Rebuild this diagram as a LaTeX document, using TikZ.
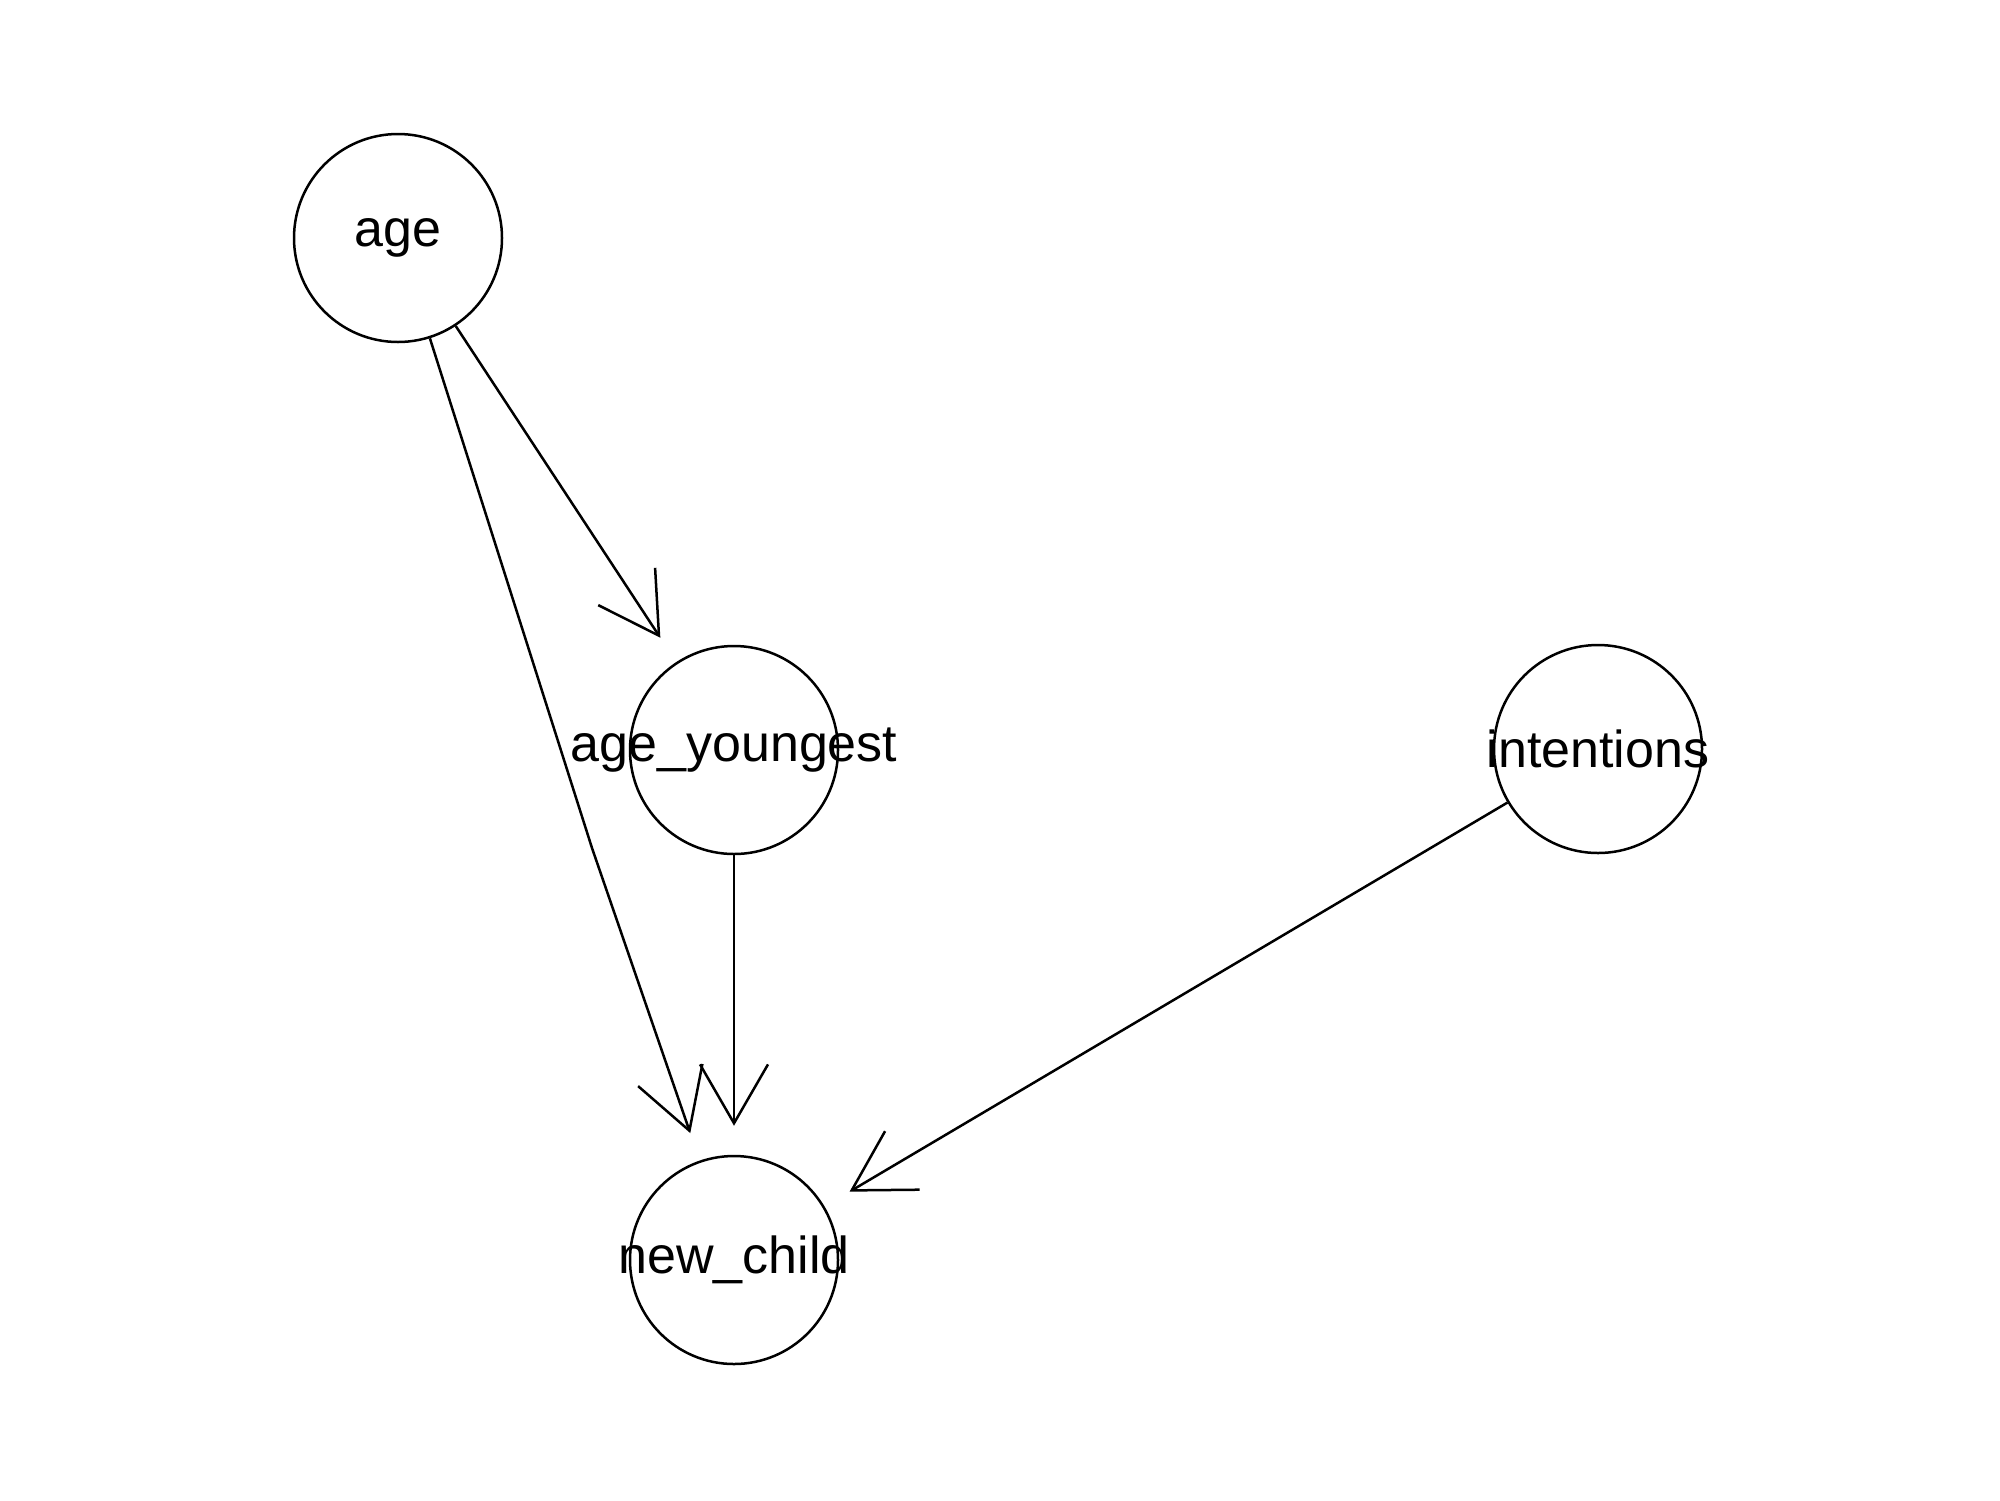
\documentclass[tikz,border=0pt]{standalone}
\usepackage{fontspec}
\setmainfont{Liberation Sans}
\usetikzlibrary{arrows.meta}
\begin{document}
\begin{tikzpicture}[x=0.5pt,y=-0.5pt,
  vnode/.style={circle,draw,line width=1.25pt,minimum size=104pt,inner sep=0pt,
    font=\fontsize{26}{30}\selectfont},
  edge/.style={line width=1.25pt,-{Straight Barb[angle=60:34pt]},shorten >=14.5pt}]
\useasboundingbox (0,0) rectangle (2000,1500);
\node[vnode] (age) at (398,238) {\makebox[0pt]{age}};
\node[vnode] (ay) at (734,750) {\makebox[0pt]{age\_youngest}};
\node[vnode] (int) at (1598,749) {\makebox[0pt]{intentions}};
\node[vnode] (nc) at (734,1260) {\makebox[0pt]{new\_child}};
\coordinate (bend) at (592,848);
\draw[edge] (age) -- (ay);
\draw[edge] (age) -- (bend) -- (nc);
\draw[edge] (ay) -- (nc);
\draw[edge] (int) -- (nc);
\end{tikzpicture}
\end{document}
